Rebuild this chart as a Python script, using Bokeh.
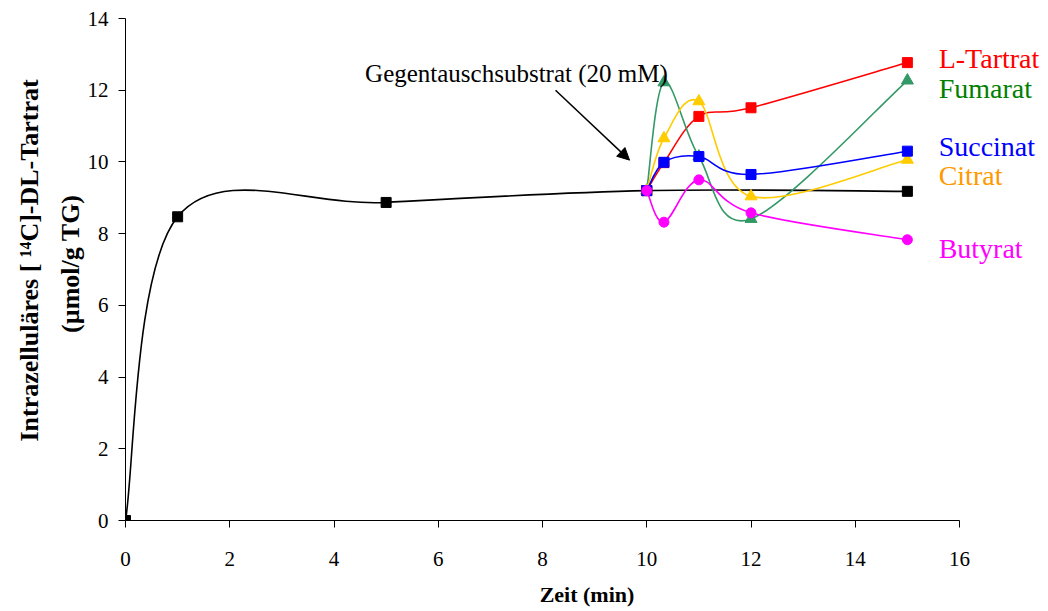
import numpy as np
from bokeh.plotting import figure
from bokeh.models import Label, Arrow, NormalHead, FixedTicker, Range1d, ColumnDataSource
from bokeh.embed import file_html
from bokeh.resources import INLINE

# Uptake of labelled DL-tartrate, control run (no exchange substrate)
time_ctrl = [0, 1, 5, 10, 15]
uptake_ctrl = [0.0, 8.47, 8.87, 9.20, 9.18]

# After addition of the exchange substrate at t = 10 min
time_exch = [10, 10.33, 11, 12, 15]
l_tartrat = [9.20, 9.98, 11.27, 11.51, 12.77]
fumarat = [9.20, 12.22, 10.15, 8.41, 12.27]
succinat = [9.20, 9.99, 10.15, 9.65, 10.30]
citrat = [9.20, 10.66, 11.69, 9.04, 10.06]
butyrat = [9.20, 8.32, 9.50, 8.58, 7.83]

series_names = ["L-Tartrat", "Fumarat", "Succinat", "Citrat", "Butyrat"]
x_ticks = [0, 2, 4, 6, 8, 10, 12, 14, 16]
y_ticks = [0, 2, 4, 6, 8, 10, 12, 14]

SERIF = "Liberation Serif"

# plot area: axes span 0..16 and 0..14, the frame reaches further right and up
# so that the series names and the annotation have room
X_MAX, Y_MAX = 16, 14
X_END = X_MAX * (1048 - 125) / (959 - 125)
Y_END = Y_MAX * (520 - 0) / (520 - 18)


def smooth_segments(xs, ys, k=1.0 / 6.0):
    """Cubic Bezier segments of a Catmull-Rom style smoothed line."""
    pts = np.column_stack([xs, ys]).astype(float)
    n = len(pts)
    out = {key: [] for key in ("x0", "y0", "x1", "y1", "cx0", "cy0", "cx1", "cy1")}
    for i in range(n - 1):
        p0 = pts[i - 1] if i > 0 else pts[i]
        p1 = pts[i]
        p2 = pts[i + 1]
        p3 = pts[i + 2] if i + 2 < n else pts[i + 1]
        c0 = p1 + (p2 - p0) * k
        c1 = p2 - (p3 - p1) * k
        out["x0"].append(p1[0]); out["y0"].append(p1[1])
        out["x1"].append(p2[0]); out["y1"].append(p2[1])
        out["cx0"].append(c0[0]); out["cy0"].append(c0[1])
        out["cx1"].append(c1[0]); out["cy1"].append(c1[1])
    return ColumnDataSource(out)


p = figure(width=1048, height=611, output_backend="svg", toolbar_location=None,
           x_range=Range1d(0, X_END), y_range=Range1d(0, Y_END),
           min_border_left=125, min_border_right=0, min_border_top=0,
           min_border_bottom=91)
p.outline_line_color = None
p.xgrid.visible = False
p.ygrid.visible = False
p.background_fill_color = "white"
p.border_fill_color = "white"

for ax in (p.xaxis, p.yaxis):
    ax.axis_line_color = "black"
    ax.axis_line_width = 1
    ax.major_tick_line_color = "black"
    ax.major_tick_out = 7
    ax.major_tick_in = 0
    ax.minor_tick_line_color = None
    ax.major_label_text_font = SERIF
    ax.major_label_text_font_size = "21px"
    ax.major_label_text_color = "black"
    ax.axis_label_text_font = SERIF
    ax.axis_label_text_font_style = "bold"
    ax.axis_label_text_color = "black"
p.xaxis.ticker = FixedTicker(ticks=x_ticks)
p.yaxis.ticker = FixedTicker(ticks=y_ticks)
p.xaxis.bounds = (0, X_MAX)
p.yaxis.bounds = (0, Y_MAX)
p.xaxis.major_label_standoff = 24
p.yaxis.major_label_standoff = 10

p.xaxis.axis_label = "Zeit (min)"
p.xaxis.axis_label_text_font_size = "22px"
p.xaxis.axis_label_standoff = 13

p.yaxis.axis_label = "Intrazelluläres [ \u00b9\u2074C]-DL-Tartrat\n(µmol/g  TG)"
p.yaxis.axis_label_text_font_size = "26px"
p.yaxis.axis_label_text_line_height = 1.4
p.yaxis.axis_label_standoff = 0

# control curve
p.bezier(x0="x0", y0="y0", x1="x1", y1="y1", cx0="cx0", cy0="cy0", cx1="cx1", cy1="cy1",
         source=smooth_segments(time_ctrl, uptake_ctrl), line_color="black", line_width=1.6)
p.scatter(time_ctrl, uptake_ctrl, marker="square", size=10, fill_color="black", line_color="black")

styles = {
    "L-Tartrat": (l_tartrat, "#FF0000", "square", 10),
    "Fumarat": (fumarat, "#339966", "triangle", 12),
    "Citrat": (citrat, "#FFCC00", "triangle", 12),
    "Succinat": (succinat, "#0000FF", "square", 10),
    "Butyrat": (butyrat, "#FF00FF", "circle", 10),
}
for name in ["L-Tartrat", "Fumarat", "Citrat", "Succinat", "Butyrat"]:
    vals, col, mk, sz = styles[name]
    p.bezier(x0="x0", y0="y0", x1="x1", y1="y1", cx0="cx0", cy0="cy0", cx1="cx1", cy1="cy1",
             source=smooth_segments(time_exch, vals), line_color=col, line_width=1.6)
    p.scatter(time_exch, vals, marker=mk, size=sz, fill_color=col, line_color=col)

# series names at the right-hand side
label_colors = {"L-Tartrat": "#FF0000", "Fumarat": "#008000", "Succinat": "#0000FF",
                "Citrat": "#FF9900", "Butyrat": "#FF00FF"}
label_y = [12.88, 12.05, 10.43, 9.62, 7.58]
for name, ly in zip(series_names, label_y):
    p.add_layout(Label(x=15.6, y=ly, text=name, text_font=SERIF, text_font_size="28px",
                       text_color=label_colors[name], text_baseline="alphabetic",
                       text_align="left"))

# exchange substrate annotation
t_add, c_add = time_exch[0], l_tartrat[0]
p.add_layout(Label(x=7.5, y=12.47, text="Gegentauschsubstrat (20 mM)", text_font=SERIF,
                   text_font_size="25px", text_color="black", text_align="center",
                   text_baseline="alphabetic"))
p.add_layout(Arrow(end=NormalHead(size=12, fill_color="black", line_color="black"),
                   x_start=t_add - 1.75, y_start=c_add + 2.8,
                   x_end=t_add - 0.33, y_end=c_add + 0.85,
                   line_color="black", line_width=1.5))

open("out.html", "w").write(file_html(p, INLINE))
